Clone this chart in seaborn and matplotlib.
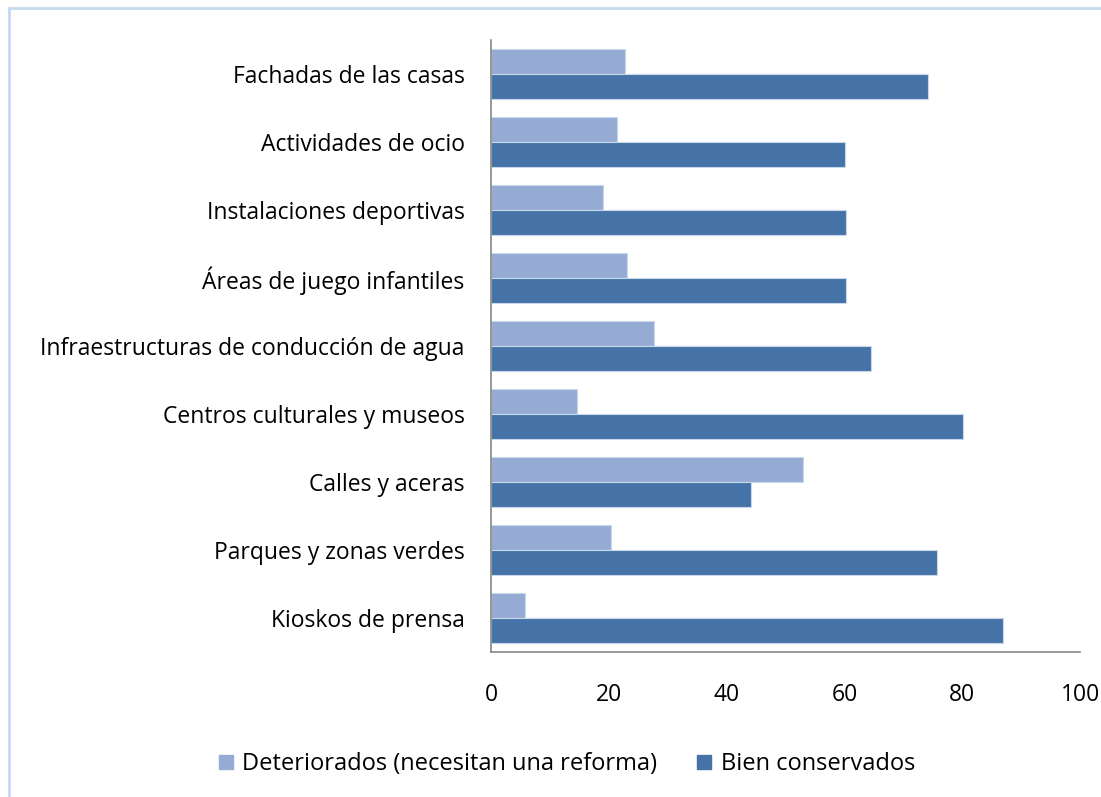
import matplotlib
matplotlib.use("Agg")
import matplotlib.pyplot as plt
import seaborn as sns
import pandas as pd
from matplotlib.lines import Line2D

# Chart data
categories = [
    "Fachadas de las casas",
    "Actividades de ocio",
    "Instalaciones deportivas",
    "Áreas de juego infantiles",
    "Infraestructuras de conducción de agua",
    "Centros culturales y museos",
    "Calles y aceras",
    "Parques y zonas verdes",
    "Kioskos de prensa",
]
deteriorados = [22.8, 21.4, 19.0, 23.1, 27.7, 14.6, 53.0, 20.4, 5.8]
bien_conservados = [74.2, 60.1, 60.3, 60.3, 64.5, 80.1, 44.1, 75.7, 86.9]
series_names = ["Deteriorados (necesitan una reforma)", "Bien conservados"]
x_ticks = [0, 20, 40, 60, 80, 100]

df = pd.DataFrame({
    "categoria": categories * 2,
    "serie": [series_names[0]] * len(categories) + [series_names[1]] * len(categories),
    "valor": deteriorados + bien_conservados,
})

sns.set_style("white")
plt.rcParams["font.family"] = ["Open Sans", "DejaVu Sans"]

fig = plt.figure(figsize=(11.01, 7.97), dpi=100)
ax = fig.add_axes([0.446, 0.182, 0.535, 0.768])

palette = {series_names[0]: "#95abd3", series_names[1]: "#4573a7"}
sns.barplot(data=df, y="categoria", x="valor", hue="serie", order=categories,
            hue_order=series_names, palette=palette, orient="h", width=0.73,
            gap=0, edgecolor="#c9d7ea", linewidth=0.8, saturation=1,
            legend=False, ax=ax)

ax.set_xlim(0, 100)
ax.set_ylim(len(categories) - 0.5, -0.5)
ax.set_xticks(x_ticks)
ax.set_xticklabels([str(t) for t in x_ticks])
ax.set_xlabel("")
ax.set_ylabel("")
ax.tick_params(axis="both", length=0, labelsize=16.5, colors="black")
ax.tick_params(axis="x", pad=22)
ax.tick_params(axis="y", pad=19)
for side in ["top", "right"]:
    ax.spines[side].set_visible(False)
for side in ["left", "bottom"]:
    ax.spines[side].set_color("#868686")
    ax.spines[side].set_linewidth(1.2)

handles = [Line2D([0], [0], marker="s", linestyle="", markersize=10,
                  markerfacecolor=palette[n], markeredgecolor=palette[n])
           for n in series_names]
fig.legend(handles, series_names, loc="center", bbox_to_anchor=(0.515, 0.041),
           ncol=2, frameon=False, fontsize=17, handlelength=0.6,
           handletextpad=0.4, columnspacing=1.7, labelcolor="black")

# light blue outer frame (top and left edges visible)
fig.add_artist(Line2D([9 / 1101, 1.0], [1 - 8 / 797, 1 - 8 / 797],
                      transform=fig.transFigure, color="#c6d9f1", linewidth=2))
fig.add_artist(Line2D([9 / 1101, 9 / 1101], [0.0, 1 - 8 / 797],
                      transform=fig.transFigure, color="#c6d9f1", linewidth=2))

fig.savefig("out.png", dpi=100)
